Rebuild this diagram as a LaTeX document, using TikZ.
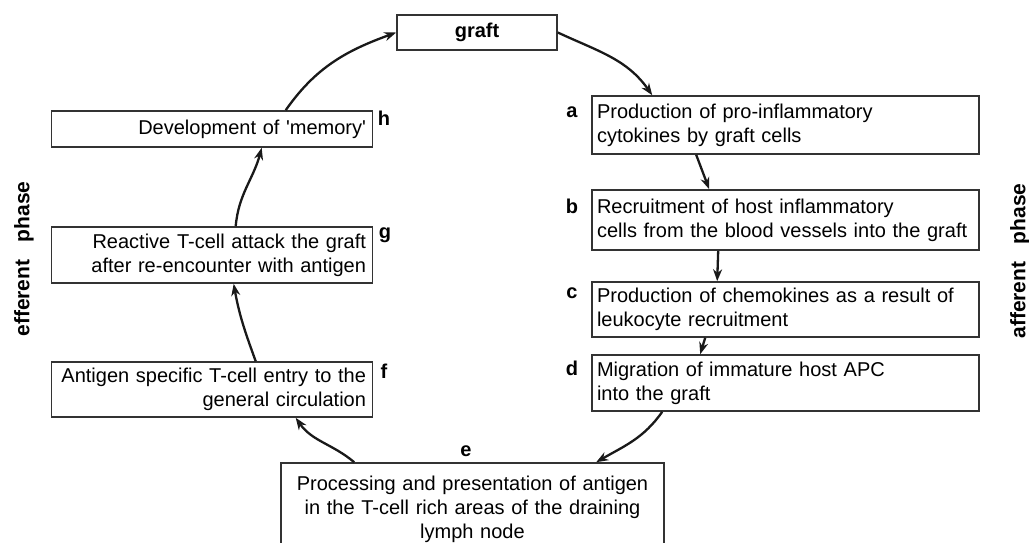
\documentclass[tikz,border=0pt]{standalone}
\usepackage{fontspec}
\setmainfont{Liberation Sans}
\usetikzlibrary{arrows.meta}
\tikzstyle{stage} = [rectangle, draw=black!80, line width=1.6pt, fill=white, inner ysep=0pt, font=\fontsize{20}{24}\selectfont]
\tikzstyle{afferentbox} = [stage, text width=377pt, inner xsep=5pt, align=left]
\tikzstyle{efferentbox} = [stage, text width=308pt, inner xsep=6.5pt, align=right]
\tikzstyle{lymphbox} = [stage, text width=373pt, inner xsep=5pt, align=center, minimum height=92pt]
\tikzstyle{graftbox} = [stage, minimum width=160pt, minimum height=35pt, inner xsep=0pt, font=\fontsize{20}{24}\selectfont\bfseries]
\tikzstyle{letter} = [anchor=base, inner sep=0pt, font=\fontsize{20}{24}\selectfont\bfseries]
\tikzstyle{phase} = [rotate=90, inner sep=0pt, font=\fontsize{21}{24}\selectfont\bfseries]
\tikzstyle{arrow} = [line width=2.3pt, -{Stealth[length=12pt, width=9pt]}, black!90]

\begin{document}
\begin{tikzpicture}[x=1pt, y=-1pt]
\useasboundingbox (0,0) rectangle (1029,542);
\clip (0,0) rectangle (1029,542);

\node (graft) [graftbox] at (477,32.5) {graft};

% afferent side
\node (a) [afferentbox, minimum height=58pt] at (785.5,125) {Production of pro-inflammatory\\cytokines by graft cells};
\node (b) [afferentbox, minimum height=60pt] at (785.5,220) {Recruitment of host inflammatory\\cells from the blood vessels into the graft};
\node (c) [afferentbox, minimum height=55pt] at (785.5,309.5) {Production of chemokines as a result of\\leukocyte recruitment};
\node (d) [afferentbox, minimum height=56pt] at (785.5,383) {Migration of immature host APC\\into the graft};

\node (e) [lymphbox] at (472.5,509) {Processing and presentation of antigen\\in the T-cell rich areas of the draining\\lymph node};

% efferent side
\node (f) [efferentbox, minimum height=55pt] at (212,389.5) {\hyphenpenalty=10000 Antigen specific T-cell entry to the\\general circulation};
\node (g) [efferentbox, minimum height=56pt] at (212,255) {Reactive T-cell attack the graft\\after re-encounter with antigen};
\node (h) [efferentbox, minimum height=36pt] at (212,129) {Development of \textquotesingle memory\textquotesingle};

\node (la) [letter] at (572,117) {a};
\node (lb) [letter] at (572,213) {b};
\node (lc) [letter] at (572,298) {c};
\node (ld) [letter] at (572,375) {d};
\node (le) [letter] at (466,456) {e};
\node (lf) [letter] at (384,378) {f};
\node (lg) [letter] at (385,238) {g};
\node (lh) [letter] at (384,125) {h};

\node (efferent) [phase] at (24,259) {efferent~~ phase};
\node (afferent) [phase] at (1020,261) {afferent~~ phase};

\draw [arrow] (graft.east) to[out=-25, in=125] ([xshift=61pt]a.north west);
\draw [arrow] ([xshift=105pt]a.south west) -- ([xshift=118pt]b.north west);
\draw [arrow] ([xshift=127pt]b.south west) -- ([xshift=126pt]c.north west);
\draw [arrow] ([xshift=114pt]c.south west) -- ([xshift=109pt]d.north west);
\draw [arrow] ([xshift=71pt]d.south west) to[out=-125, in=30] ([xshift=316pt]e.north west);
\draw [arrow] ([xshift=74pt]e.north west) to[out=140, in=-55] ([xshift=245pt]f.south west);
\draw [arrow] ([xshift=205pt]f.north west) to[out=110, in=-80] ([xshift=183pt]g.south west);
\draw [arrow] ([xshift=185pt]g.north west) to[out=85, in=-105] ([xshift=211pt]h.south west);
\draw [arrow] ([xshift=235pt]h.north west) to[out=55, in=200] (graft.west);
\end{tikzpicture}
\end{document}
